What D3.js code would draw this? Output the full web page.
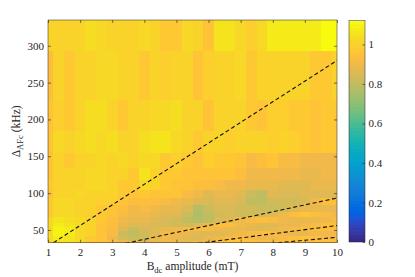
<!DOCTYPE html>
<html><head><meta charset="utf-8">
<script src="https://cdn.jsdelivr.net/npm/d3@7"></script>
<style>body{margin:0;background:#fff} svg text{font-family:"Liberation Serif","DejaVu Serif",serif !important;fill:#262626}</style>
</head><body>
<svg id="c" width="415" height="277"></svg>
<script>
// ---------- data ----------
const bdc = [1,1.333,1.667,2,2.333,2.667,3,3.333,3.667,4,4.333,4.667,5,5.333,5.667,6,6.333,6.667,7,7.333,7.667,8,8.333,8.667,9,9.333,9.667,10];
// row edges of the measured grid, in kHz, top to bottom
const deltaEdges = [335,293,227,184,155,134,118,104,93,84,75,67,60,54,48,42,36.4,32.7];
// normalised signal, rows top (high Δ) to bottom (low Δ)
const ratio = [
 [1.00,1.00,1.01,1.00,1.04,1.02,1.00,1.00,1.00, 1.02,1.01,0.98,0.97,1.03,1.00,0.96,1.06,1.05, 1.03,0.99,1.03,1.08,1.08,1.08,1.08,1.08,1.11,1.11],
 [0.93,1.00,0.97,1.00,1.00,1.02,1.02,1.01,1.01, 0.98,1.00,0.99,1.00,1.00,0.96,0.99,1.01,1.01, 1.02,0.98,1.00,1.00,1.01,1.01,1.01,0.98,0.98,1.00],
 [0.95,0.99,0.97,1.00,1.04,1.04,1.00,0.97,1.00, 1.00,1.03,1.03,1.04,1.00,1.00,0.96,1.00,1.00, 1.00,0.98,0.96,0.99,0.99,0.97,0.97,0.96,0.97,0.98],
 [0.95,1.02,1.00,1.03,1.04,1.03,1.04,1.00,1.00, 1.04,1.05,1.05,1.03,1.00,0.97,1.00,1.00,0.99, 1.00,1.01,1.00,0.99,1.00,0.99,0.98,0.96,0.98,0.97],
 [0.95,1.00,0.98,1.00,1.00,1.02,1.00,1.02,1.00, 1.03,1.02,0.97,0.99,0.98,0.95,0.99,0.97,0.98, 0.96,0.92,0.93,0.95,0.92,0.92,0.91,0.90,0.91,0.91],
 [0.96,1.00,1.00,1.00,1.02,1.03,1.01,1.00,0.98, 1.05,1.01,0.97,0.98,0.96,0.95,0.96,0.96,0.95, 0.93,0.90,0.90,0.91,0.90,0.90,0.89,0.89,0.90,0.90],
 [0.97,1.00,1.00,1.00,1.02,1.02,1.00,0.98,0.97, 1.02,1.00,0.97,0.96,0.96,0.94,0.93,0.92,0.90, 0.90,0.88,0.88,0.88,0.87,0.86,0.87,0.88,0.88,0.88],
 [0.96,1.00,1.00,1.02,1.01,1.00,1.00,0.97,0.95, 0.97,0.96,0.96,0.95,0.92,0.90,0.87,0.88,0.88, 0.87,0.82,0.80,0.86,0.85,0.85,0.86,0.87,0.87,0.87],
 [0.97,1.02,1.02,1.01,1.00,0.99,0.99,0.96,0.93, 0.94,0.93,0.92,0.90,0.88,0.86,0.85,0.86,0.86, 0.85,0.80,0.79,0.84,0.83,0.84,0.85,0.90,0.93,0.93],
 [0.98,1.03,1.03,1.00,1.00,0.98,0.96,0.94,0.91, 0.92,0.90,0.89,0.88,0.85,0.78,0.82,0.85,0.85, 0.83,0.83,0.82,0.82,0.84,0.86,0.88,0.88,0.88,0.89],
 [0.98,1.03,1.02,1.00,0.99,0.97,0.95,0.92,0.90, 0.90,0.88,0.87,0.86,0.82,0.76,0.80,0.84,0.85, 0.84,0.83,0.84,0.87,0.90,0.93,0.95,0.94,0.92,0.90],
 [1.02,1.05,1.04,1.02,1.00,0.97,0.93,0.90,0.88, 0.88,0.86,0.85,0.84,0.80,0.78,0.80,0.85,0.86, 0.90,0.92,0.93,0.92,0.90,0.88,0.88,0.89,0.90,0.92],
 [1.03,1.08,1.05,1.03,1.00,0.96,0.93,0.88,0.86, 0.86,0.85,0.85,0.84,0.84,0.86,0.90,0.93,0.93, 0.90,0.88,0.87,0.87,0.88,0.89,0.90,0.92,0.93,0.94],
 [1.03,1.10,1.07,1.03,1.00,0.96,0.92,0.86,0.81, 0.85,0.86,0.88,0.90,0.92,0.93,0.92,0.90,0.88, 0.88,0.87,0.87,0.88,0.90,0.92,0.94,0.93,0.93,0.93],
 [1.03,1.10,1.08,1.03,1.00,0.96,0.92,0.82,0.80, 0.84,0.87,0.90,0.90,0.88,0.86,0.86,0.87,0.88, 0.90,0.92,0.94,0.92,0.90,0.89,0.89,0.90,0.90,0.90],
 [1.03,1.08,1.06,1.02,0.98,0.95,0.90,0.83,0.82, 0.84,0.88,0.90,0.88,0.86,0.85,0.88,0.90,0.92, 0.93,0.92,0.90,0.90,0.92,0.94,0.95,0.93,0.92,0.92],
 [1.03,1.06,1.05,1.02,0.98,0.95,0.92,0.88,0.86, 0.86,0.88,0.90,0.90,0.88,0.88,0.90,0.93,0.95, 0.95,0.93,0.92,0.92,0.93,0.95,0.95,0.94,0.93,0.93]
];
const xTicks = [1,2,3,4,5,6,7,8,9,10];
const yTicks = [50,100,150,200,250,300];
const cTicks = [0,0.2,0.4,0.6,0.8,1];
const xDomain = [1,10];
const yDomain = [32.7,335];
const cLim = [0,1.12];
const gammaE = 28;           // kHz per mT
const orders = [1,3,5,7];    // resonance lines Δ = γB/n

// MATLAB parula (64)
const parula = [
[0.2081,0.1663,0.5292],[0.2116,0.1898,0.5777],[0.2123,0.2138,0.6270],[0.2081,0.2386,0.6771],
[0.1959,0.2645,0.7279],[0.1707,0.2919,0.7792],[0.1253,0.3242,0.8303],[0.0591,0.3598,0.8683],
[0.0117,0.3875,0.8820],[0.0060,0.4086,0.8828],[0.0165,0.4266,0.8786],[0.0329,0.4430,0.8720],
[0.0498,0.4586,0.8641],[0.0629,0.4737,0.8554],[0.0723,0.4887,0.8467],[0.0779,0.5040,0.8384],
[0.0793,0.5200,0.8312],[0.0749,0.5375,0.8263],[0.0641,0.5570,0.8240],[0.0488,0.5772,0.8228],
[0.0343,0.5966,0.8199],[0.0265,0.6137,0.8135],[0.0239,0.6287,0.8038],[0.0231,0.6418,0.7913],
[0.0228,0.6535,0.7768],[0.0267,0.6642,0.7607],[0.0384,0.6743,0.7436],[0.0590,0.6838,0.7254],
[0.0843,0.6928,0.7062],[0.1133,0.7015,0.6859],[0.1453,0.7098,0.6646],[0.1801,0.7177,0.6424],
[0.2178,0.7250,0.6193],[0.2586,0.7317,0.5954],[0.3022,0.7376,0.5712],[0.3482,0.7424,0.5473],
[0.3953,0.7459,0.5244],[0.4420,0.7481,0.5033],[0.4871,0.7491,0.4840],[0.5300,0.7491,0.4661],
[0.5709,0.7485,0.4494],[0.6099,0.7473,0.4337],[0.6473,0.7456,0.4188],[0.6834,0.7435,0.4044],
[0.7184,0.7411,0.3905],[0.7525,0.7384,0.3768],[0.7858,0.7356,0.3633],[0.8185,0.7327,0.3498],
[0.8507,0.7299,0.3360],[0.8824,0.7274,0.3217],[0.9139,0.7258,0.3063],[0.9450,0.7261,0.2886],
[0.9739,0.7314,0.2666],[0.9938,0.7455,0.2403],[0.9990,0.7653,0.2164],[0.9955,0.7861,0.1967],
[0.9880,0.8066,0.1794],[0.9789,0.8271,0.1633],[0.9697,0.8481,0.1475],[0.9626,0.8705,0.1309],
[0.9589,0.8949,0.1132],[0.9598,0.9218,0.0948],[0.9661,0.9514,0.0755],[0.9763,0.9831,0.0538]
].map(c => d3.rgb(c[0]*255,c[1]*255,c[2]*255).formatHex());

// ---------- drawing ----------
const FONT = '"Liberation Serif","DejaVu Serif",serif';
const svg = d3.select("#c");
const P = {l:48, r:337, t:20, b:242.7};
const CB = {l:349, r:365, t:20.7, b:242};
const x = d3.scaleLinear().domain(xDomain).range([P.l,P.r]);
const y = d3.scaleLinear().domain(yDomain).range([P.b,P.t]);
const cq = d3.scaleQuantize().domain(cLim).range(parula);
const color = v => v >= cLim[1] ? parula[63] : (v <= cLim[0] ? parula[0] : cq(v));

const colEdges = [xDomain[0]];
for (let i=0;i<bdc.length-1;i++) colEdges.push((bdc[i]+bdc[i+1])/2);
colEdges.push(xDomain[1]);

const cells = [];
ratio.forEach((row,ri)=>row.forEach((v,ci)=>cells.push({
  x0:colEdges[ci], x1:colEdges[ci+1], y0:deltaEdges[ri+1], y1:deltaEdges[ri], v})));

svg.append("defs").append("clipPath").attr("id","pc").append("rect")
  .attr("x",P.l).attr("y",P.t).attr("width",P.r-P.l).attr("height",P.b-P.t);

svg.append("g").attr("shape-rendering","crispEdges").selectAll("rect").data(cells).join("rect")
  .attr("x",d=>x(d.x0)).attr("width",d=>x(d.x1)-x(d.x0))
  .attr("y",d=>y(d.y1)).attr("height",d=>y(d.y0)-y(d.y1))
  .attr("fill",d=>color(d.v));

const lg = svg.append("g").attr("clip-path","url(#pc)");
orders.forEach(n=>{
  lg.append("line")
    .attr("x1",x(xDomain[0])).attr("y1",y(gammaE*xDomain[0]/n))
    .attr("x2",x(xDomain[1])).attr("y2",y(gammaE*xDomain[1]/n))
    .attr("stroke","#111").attr("stroke-width",1.1).attr("stroke-dasharray","4,2.6");
});

const fs = 11;
function styleAxis(g){
  g.attr("font-family",FONT);
  g.select(".domain").remove();
  g.selectAll(".tick line").attr("stroke","#262626").attr("stroke-width",0.6);
  g.selectAll(".tick text").attr("font-size",fs).style("font-family",FONT).attr("fill","#262626");
}
svg.append("g").attr("transform",`translate(0,${P.b})`)
  .call(d3.axisBottom(x).tickValues(xTicks).tickSize(-3).tickPadding(5.5).tickFormat(d3.format("d"))).call(styleAxis);
svg.append("g").attr("transform",`translate(0,${P.t})`)
  .call(d3.axisTop(x).tickValues(xTicks).tickSize(-3).tickFormat("")).call(styleAxis);
svg.append("g").attr("transform",`translate(${P.l},0)`)
  .call(d3.axisLeft(y).tickValues(yTicks).tickSize(-3).tickPadding(4).tickFormat(d3.format("d"))).call(styleAxis);
svg.append("g").attr("transform",`translate(${P.r},0)`)
  .call(d3.axisRight(y).tickValues(yTicks).tickSize(-3).tickFormat("")).call(styleAxis);
svg.append("rect").attr("x",P.l).attr("y",P.t).attr("width",P.r-P.l).attr("height",P.b-P.t)
  .attr("fill","none").attr("stroke","#262626").attr("stroke-width",0.5);

const xt = svg.append("text").attr("x",(P.l+P.r)/2).attr("y",270).attr("text-anchor","middle")
  .attr("font-size",11.6).style("font-family",FONT);
xt.append("tspan").text("B");
xt.append("tspan").attr("font-size",8.5).attr("dy",3.3).text("dc");
xt.append("tspan").attr("dy",-3.3).text(" amplitude (mT)");

const yt = svg.append("text").attr("transform",`translate(20,${(P.t+P.b)/2}) rotate(-90)`)
  .attr("text-anchor","middle").attr("font-size",11.6).style("font-family",FONT);
yt.append("tspan").text("Δ");
yt.append("tspan").attr("font-size",8.5).attr("dy",3.3).text("AFc");
yt.append("tspan").attr("dy",-3.3).text(" (kHz)");

const cy = d3.scaleLinear().domain(cLim).range([CB.b,CB.t]);
const cbg = svg.append("g").attr("shape-rendering","crispEdges");
parula.forEach((c,i)=>{
  const v0 = cLim[0]+(cLim[1]-cLim[0])*i/64, v1 = cLim[0]+(cLim[1]-cLim[0])*(i+1)/64;
  cbg.append("rect").attr("x",CB.l).attr("width",CB.r-CB.l)
    .attr("y",cy(v1)).attr("height",cy(v0)-cy(v1)).attr("fill",c);
});
svg.append("g").attr("transform",`translate(${CB.r},0)`)
  .call(d3.axisRight(cy).tickValues(cTicks).tickSize(-2.5).tickPadding(3.5).tickFormat(d=>d===0||d===1?String(d):d3.format(".1f")(d)))
  .call(styleAxis);
svg.append("rect").attr("x",CB.l).attr("y",CB.t).attr("width",CB.r-CB.l).attr("height",CB.b-CB.t)
  .attr("fill","none").attr("stroke","#262626").attr("stroke-width",0.5);
</script>
</body></html>
